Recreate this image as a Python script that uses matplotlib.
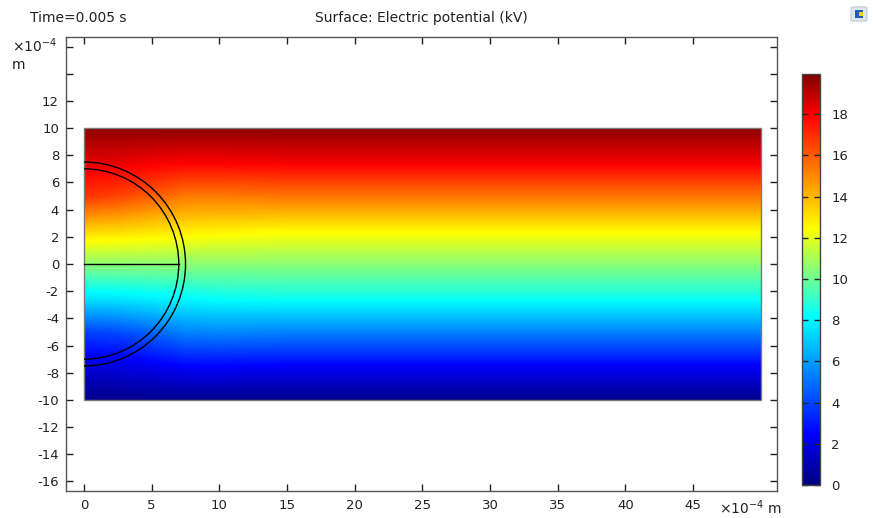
import numpy as np
import matplotlib
matplotlib.use("Agg")
import matplotlib.pyplot as plt
from matplotlib.colors import LinearSegmentedColormap, Normalize
from matplotlib.patches import Rectangle, Arc, FancyBboxPatch
import matplotlib.cm as cm

plt.rcParams["font.family"] = "DejaVu Sans"
plt.rcParams["axes.unicode_minus"] = False

# potential (kV) at grid nodes (units of 1e-4 m)
x_nodes = [0, 2.5, 5, 7.5, 10, 15, 50]
y_nodes = [-10, -7.5, -5, -2.5, 0, 2.5, 5, 7.5, 10]
row_m10 = [0.2, 0.2, 0.2, 0.2, 0.2, 0.2, 0.2]
row_m7 = [1.8, 1.9, 2.2, 2.5, 2.5, 2.4, 2.4]
row_m5 = [3.9, 4.1, 4.7, 5.4, 5.5, 5.4, 5.4]
row_m2 = [7.6, 7.7, 7.9, 8.1, 8.3, 8.4, 8.4]
row_0 = [10.5, 10.5, 10.5, 10.5, 10.5, 10.5, 10.5]
row_p2 = [13.4, 13.3, 13.1, 12.9, 12.8, 12.6, 12.6]
row_p5 = [16.8, 16.5, 15.9, 15.3, 15.3, 15.4, 15.4]
row_p7 = [18.4, 18.3, 18.1, 18.0, 18.0, 18.1, 18.1]
row_p10 = [19.7, 19.7, 19.7, 19.7, 19.7, 19.7, 19.7]
potential = np.array([row_m10, row_m7, row_m5, row_m2, row_0,
                      row_p2, row_p5, row_p7, row_p10])

v_min, v_max = 0.0, 19.95
cbar_ticks = [0, 2, 4, 6, 8, 10, 12, 14, 16, 18]
x_ticks = [0, 5, 10, 15, 20, 25, 30, 35, 40, 45]
y_ticks = [-16, -14, -12, -10, -8, -6, -4, -2, 0, 2, 4, 6, 8, 10, 12, 14, 16]
y_labels = [str(t) if t <= 12 else "" for t in y_ticks]
r_inner, r_outer = 7.0, 7.5

cmap = LinearSegmentedColormap.from_list("comsol_rainbow", [
    (0.0, (0.0, 0.0, 0.5)),
    (0.125, (0.0, 0.0, 1.0)),
    (0.41, (0.0, 1.0, 1.0)),
    (0.625, (1.0, 1.0, 0.0)),
    (0.9, (1.0, 0.0, 0.0)),
    (1.0, (0.5, 0.0, 0.0)),
], N=512)
norm = Normalize(v_min, v_max)
txt = "#222222"

fig = plt.figure(figsize=(8.73, 5.18), dpi=100)
ax = fig.add_axes([66 / 873, 27 / 518, 711 / 873, 454 / 518])

ax.contourf(x_nodes, y_nodes, potential, levels=np.linspace(v_min, v_max, 300),
            cmap=cmap, norm=norm, antialiased=False)
ax.add_patch(Rectangle((0, -10), 50, 20, fill=False, ec="#7a7a7a", lw=1.0, zorder=3))
for r in (r_inner, r_outer):
    ax.add_patch(Arc((0, 0), 2 * r, 2 * r, theta1=-90, theta2=90,
                     color="black", lw=1.0, zorder=4))
ax.plot([0, r_inner], [0, 0], color="black", lw=1.0, zorder=4)

ax.set_xlim(-1.33, 51.2)
ax.set_ylim(-16.7, 16.7)
ax.set_xticks(x_ticks)
ax.set_yticks(y_ticks)
ax.set_yticklabels(y_labels)
ax.tick_params(direction="in", length=5, width=1, colors="#222222", labelsize=9.5,
               top=True, right=True, labelcolor=txt)
ax.tick_params(axis="x", pad=6)
ax.tick_params(axis="y", pad=5)
for s in ax.spines.values():
    s.set_color("#555555")
    s.set_linewidth(1.0)

fig.text(30 / 873, 1 - 18 / 518, "Time=0.005 s", fontsize=10, ha="left", va="center", color=txt)
fig.text(421 / 873, 1 - 18 / 518, "Surface: Electric potential (kV)", fontsize=10,
         ha="center", va="center", color=txt)
fig.text(12 / 873, 1 - 46 / 518, r"×10$^{-4}$", fontsize=10, ha="left", va="center", color=txt)
fig.text(12 / 873, 1 - 65 / 518, "m", fontsize=10, ha="left", va="center", color=txt)
fig.text(719 / 873, 1 - 508 / 518, r"×10$^{-4}$ m", fontsize=10, ha="left", va="center", color=txt)

cax = fig.add_axes([802 / 873, 33 / 518, 18 / 873, 411 / 518])
sm = cm.ScalarMappable(norm=norm, cmap=cmap)
cb = fig.colorbar(sm, cax=cax, ticks=cbar_ticks)
cb.outline.set_edgecolor("#444444")
cb.outline.set_linewidth(1.0)
cax.tick_params(direction="in", length=4, width=1, colors="#222222", labelsize=9.5,
                left=True, right=True, pad=8, labelcolor=txt)

# small toolbar icon in the corner
fig.patches.append(FancyBboxPatch((853 / 873, 1 - 20 / 518), 12 / 873, 12 / 518,
                                  boxstyle="round,pad=0.002", fc="#dde6ee", ec="#c8d0d8",
                                  transform=fig.transFigure, figure=fig))
fig.patches.append(Rectangle((855 / 873, 1 - 18 / 518), 8 / 873, 8 / 518, fc="#1f5fb0",
                             ec="none", transform=fig.transFigure, figure=fig))
fig.patches.append(Rectangle((859 / 873, 1 - 16 / 518), 4 / 873, 4 / 518, fc="#e8d040",
                             ec="none", transform=fig.transFigure, figure=fig))

fig.savefig("out.png", dpi=100)
